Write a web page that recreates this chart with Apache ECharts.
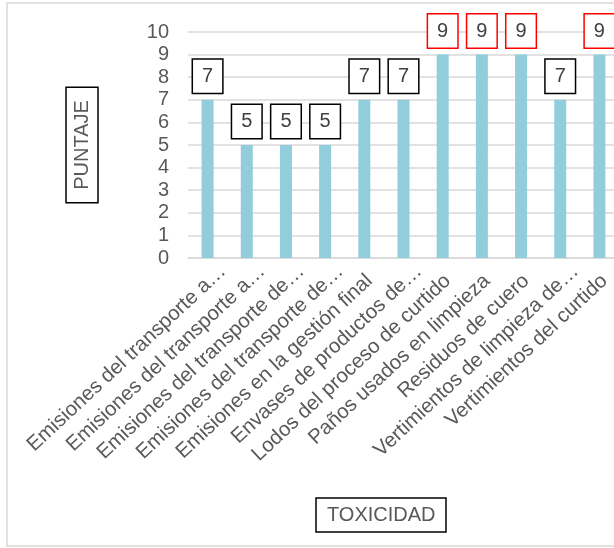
<!DOCTYPE html>
<html>
<head>
<meta charset="utf-8">
<script src="https://cdn.jsdelivr.net/npm/echarts@6/dist/echarts.min.js"></script>
<style>
html,body{margin:0;padding:0;background:#fff;}
#chart{width:614px;height:548px;}
</style>
</head>
<body>
<div id="chart"></div>
<script>
var categories = [
  "Emisiones del transporte a…",
  "Emisiones del transporte a…",
  "Emisiones del transporte de…",
  "Emisiones del transporte de…",
  "Emisiones en la gestión final",
  "Envases de productos de…",
  "Lodos del proceso de curtido",
  "Paños usados en limpieza",
  "Residuos de cuero",
  "Vertimientos de limpieza de…",
  "Vertimientos del curtido"
];
var scores = [7, 5, 5, 5, 7, 7, 9, 9, 9, 7, 9];
var yTicks = [0, 1, 2, 3, 4, 5, 6, 7, 8, 9, 10];
var yTitle = "PUNTAJE";
var xTitle = "TOXICIDAD";

var FONT = "Liberation Sans";
var FS = 20;
var chart = echarts.init(document.getElementById('chart'), null, {renderer: 'canvas'});

var barData = scores.map(function (v) {
  return {
    value: v,
    label: { borderColor: v === 9 ? '#ff0000' : '#000000' }
  };
});

chart.setOption({
  animation: false,
  backgroundColor: '#ffffff',
  textStyle: { fontFamily: FONT },
  title: {
    text: xTitle,
    left: 316,
    top: 498,
    padding: [6, 11],
    borderColor: '#000000',
    borderWidth: 1.5,
    textStyle: { fontFamily: FONT, fontSize: FS, fontWeight: 'normal', color: '#595959', lineHeight: 22 }
  },
  graphic: [{
    type: 'rect',
    shape: { x: 7, y: 3, width: 640, height: 543 },
    style: { fill: 'none', stroke: '#d9d9d9', lineWidth: 1.5 },
    silent: true,
    z: -1
  }],
  grid: { left: 188, width: 431, top: 32, height: 226, containLabel: false, outerBoundsMode: 'none' },
  xAxis: {
    type: 'category',
    data: categories,
    axisLine: { show: true, lineStyle: { color: '#d9d9d9', width: 1.5 } },
    axisTick: { show: false },
    axisLabel: {
      interval: 0, rotate: 43, fontFamily: FONT, fontSize: 20.5, color: '#595959',
      margin: -6,
      padding: [45, 0, 0, 0],
      formatter: function (v) {
        return v.charAt(v.length - 1) === '…' ? v : v + '{gap| }';
      },
      rich: { gap: { width: 14, fontSize: 20.5, fontFamily: FONT } }
    }
  },
  yAxis: {
    type: 'value',
    min: yTicks[0],
    max: yTicks[yTicks.length - 1],
    interval: 1,
    name: yTitle,
    nameLocation: 'middle',
    nameRotate: 90,
    nameGap: 90,
    nameTextStyle: {
      fontFamily: FONT, fontSize: FS, color: '#595959', lineHeight: 22,
      borderColor: '#000000', borderWidth: 1.5, padding: [5, 13]
    },
    axisLine: { show: false },
    axisTick: { show: false },
    splitLine: { lineStyle: { color: '#d9d9d9', width: 1.5 } },
    axisLabel: { fontFamily: FONT, fontSize: FS, color: '#595959', margin: 19 }
  },
  series: [{
    type: 'bar',
    data: barData,
    barWidth: 12,
    itemStyle: { color: '#92cddc' },
    label: {
      show: true,
      position: 'top',
      distance: 7,
      fontFamily: FONT,
      fontSize: FS,
      color: '#404040',
      lineHeight: 22,
      padding: [5.5, 9],
      borderWidth: 1.5,
      backgroundColor: '#ffffff'
    }
  }]
});
</script>
</body>
</html>
